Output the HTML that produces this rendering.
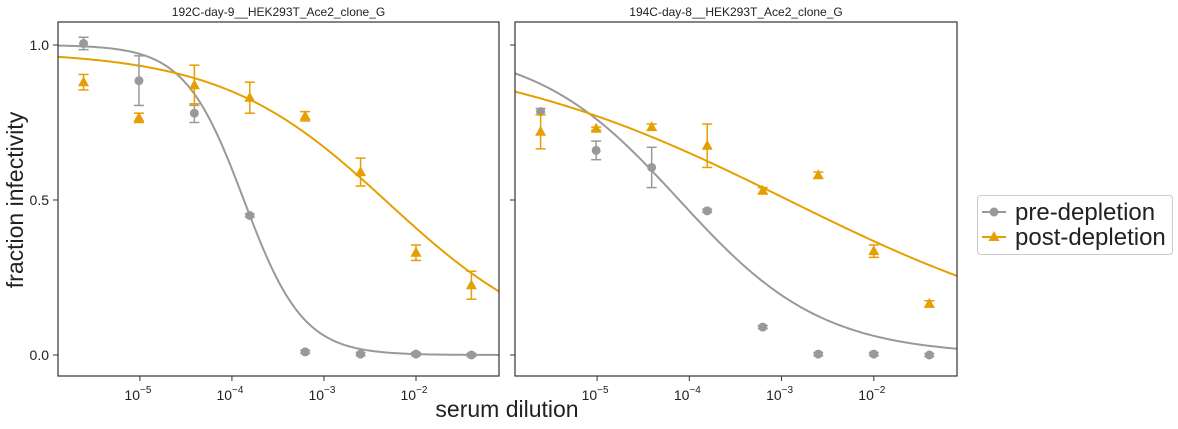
<!DOCTYPE html>
<html><head><meta charset="utf-8"><style>
html,body{margin:0;padding:0;background:#fff;}
svg{display:block;font-family:"Liberation Sans","DejaVu Sans",sans-serif;}
</style></head><body>
<svg id="chart" width="1178" height="429" viewBox="0 0 1178 429"></svg>
<script>
const dilutions = [1/409600, 1/102400, 1/25600, 1/6400, 1/1600, 1/400, 1/100, 1/25];
const panelTitles = ["192C-day-9__HEK293T_Ace2_clone_G", "194C-day-8__HEK293T_Ace2_clone_G"];
const preA = [1.005, 0.885, 0.78, 0.45, 0.01, 0.003, 0.003, 0.0];
const preAErr = [0.02, 0.08, 0.03, 0.005, 0.005, 0.005, 0.005, 0.005];
const postA = [0.88, 0.765, 0.87, 0.83, 0.77, 0.59, 0.33, 0.225];
const postAErr = [0.025, 0.015, 0.065, 0.05, 0.015, 0.045, 0.025, 0.045];
const preB = [0.785, 0.66, 0.605, 0.465, 0.09, 0.003, 0.003, 0.0];
const preBErr = [0.01, 0.03, 0.065, 0.005, 0.005, 0.005, 0.005, 0.005];
const postB = [0.72, 0.73, 0.735, 0.675, 0.53, 0.58, 0.335, 0.165];
const postBErr = [0.055, 0.005, 0.01, 0.07, 0.01, 0.01, 0.02, 0.01];
// Hill fits: [log10 ic50, hill slope, top]
const fitPreA = [-3.87, 1.35, 1.0];
const fitPostA = [-2.3, 0.48, 0.98];
const fitPreB = [-4.11, 0.56, 1.0];
const fitPostB = [-2.93, 0.254, 1.0];
const yTicks = [0, 0.5, 1.0];
const yTickLabels = ["0.0", "0.5", "1.0"];
const xTickExps = [-5, -4, -3, -2];

const NS = "http://www.w3.org/2000/svg";
const svg = document.getElementById("chart");
function mk(tag, attrs, parent) {
  const e = document.createElementNS(NS, tag);
  for (const k in attrs) e.setAttribute(k, attrs[k]);
  (parent || svg).appendChild(e);
  return e;
}
const GREY = "#999999", ORANGE = "#E69F00";
const yTop = 22, yBot = 376;
const yS = v => 355 - v * 310;
const logMin = -5.89, logMax = -1.098;

const panels = [
  {x0: 58, x1: 499, pre: preA, preE: preAErr, post: postA, postE: postAErr, fPre: fitPreA, fPost: fitPostA, title: panelTitles[0], showY: true},
  {x0: 515, x1: 957, pre: preB, preE: preBErr, post: postB, postE: postBErr, fPre: fitPreB, fPost: fitPostB, title: panelTitles[1], showY: false}
];

panels.forEach((p, pi) => {
  const g = mk("g", {});
  
  
  const xS = lg => p.x0 + (lg - logMin) / (logMax - logMin) * (p.x1 - p.x0);
  const t = mk("text", {x: (p.x0 + p.x1) / 2, y: 16, "text-anchor": "middle", "font-size": 12, fill: "#222"}, g);
  t.textContent = p.title;
  
  
  yTicks.forEach((v, i) => {
    const y = yS(v);
    mk("line", {x1: p.x0 - 5, x2: p.x0, y1: y, y2: y, stroke: "#333", "stroke-width": 1}, g);
    if (p.showY) {
      const tl = mk("text", {x: p.x0 - 9, y: y + 5, "text-anchor": "end", "font-size": 14, fill: "#222"}, g);
      tl.textContent = yTickLabels[i];
      
      
    }
  });
  xTickExps.forEach(e => {
    const x = xS(e);
    mk("line", {x1: x, x2: x, y1: yBot, y2: yBot + 5, stroke: "#333", "stroke-width": 1}, g);
    const tl = mk("text", {x: x - 2, y: yBot + 24, "text-anchor": "middle", "font-size": 14, fill: "#222"}, g);
    tl.textContent = "10";
    const sup = mk("tspan", {dy: -7, "font-size": 10}, tl);
    sup.textContent = "\u2212" + Math.abs(e);
    
    
  });
  function curve(fit, color, name) {
    let d = "";
    for (let i = 0; i <= 200; i++) {
      const lg = logMin + (logMax - logMin) * i / 200;
      const v = fit[2] / (1 + Math.pow(10, fit[1] * (lg - fit[0])));
      d += (i ? "L" : "M") + xS(lg).toFixed(2) + "," + yS(v).toFixed(2);
    }
    const c = mk("path", {d: d, fill: "none", stroke: color, "stroke-width": 2}, g);
    
    
  }
  curve(p.fPre, GREY, "pre-depletion-curve");
  curve(p.fPost, ORANGE, "post-depletion-curve");
  function pts(vals, errs, color, shape, name) {
    vals.forEach((v, i) => {
      const x = xS(Math.log10(dilutions[i])), y = yS(v);
      const e1 = yS(v + errs[i]), e2 = yS(v - errs[i]);
      mk("line", {x1: x, x2: x, y1: e1, y2: e2, stroke: color, "stroke-width": 1.5}, g);
      mk("line", {x1: x - 5, x2: x + 5, y1: e1, y2: e1, stroke: color, "stroke-width": 1.5}, g);
      mk("line", {x1: x - 5, x2: x + 5, y1: e2, y2: e2, stroke: color, "stroke-width": 1.5}, g);
      let m;
      if (shape === "circle") m = mk("circle", {cx: x, cy: y, r: 4.5, fill: color}, g);
      else m = mk("polygon", {points: `${x},${y - 6} ${x - 5.5},${y + 4} ${x + 5.5},${y + 4}`, fill: color}, g);
      
      
    });
  }
  pts(p.pre, p.preE, GREY, "circle", "pre-depletion-point");
  pts(p.post, p.postE, ORANGE, "tri", "post-depletion-point");
  const fr = mk("rect", {x: p.x0, y: yTop, width: p.x1 - p.x0, height: yBot - yTop, fill: "none", stroke: "#333", "stroke-width": 1.2}, g);
  
  
});

const yl = mk("text", {x: 23, y: 200, "text-anchor": "middle", "font-size": 23, fill: "#222", transform: "rotate(-90 23 200)"});
yl.textContent = "fraction infectivity";


const xl = mk("text", {x: 507, y: 417, "text-anchor": "middle", "font-size": 23, fill: "#222"});
xl.textContent = "serum dilution";



const lg = mk("g", {});


mk("rect", {x: 977.5, y: 195.5, width: 195, height: 59, rx: 3, fill: "#fff", stroke: "#ccc"}, lg);
[[GREY, "pre-depletion", 212, "circle"], [ORANGE, "post-depletion", 237, "tri"]].forEach(([c, label, y, sh]) => {
  const e = mk("g", {}, lg);
  
  
  mk("line", {x1: 982, x2: 1006, y1: y, y2: y, stroke: c, "stroke-width": 2}, e);
  if (sh === "circle") mk("circle", {cx: 994, cy: y, r: 4.5, fill: c}, e);
  else mk("polygon", {points: `994,${y - 6} 988.5,${y + 4} 999.5,${y + 4}`, fill: c}, e);
  const tx = mk("text", {x: 1015, y: y + 8, "font-size": 24, fill: "#222"}, e);
  tx.textContent = label;
});
</script>
</body></html>
